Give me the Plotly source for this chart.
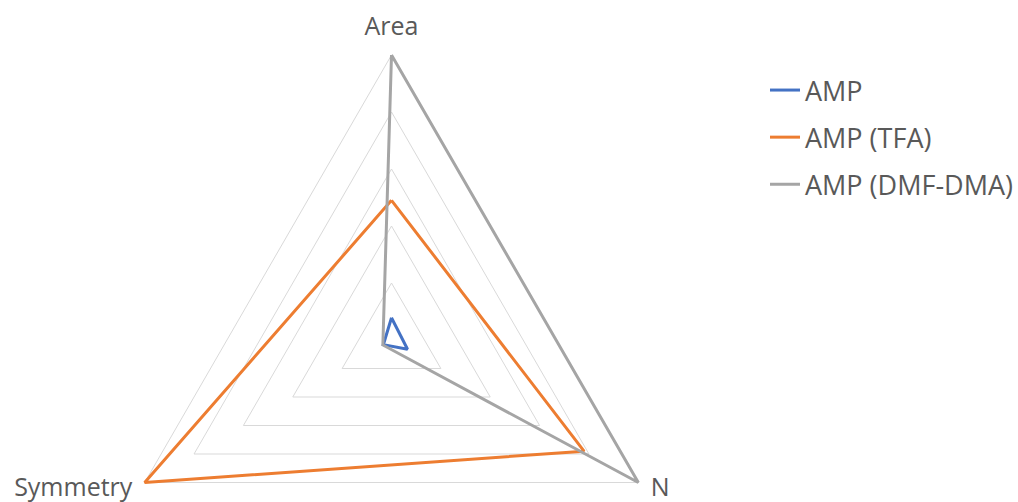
import plotly.graph_objects as go

# Radar axes (clockwise from the top) and normalised scores per method
categories = ["Area", "N", "Symmetry"]
series_names = ["AMP", "AMP (TFA)", "AMP (DMF-DMA)"]
amp = [0.078, 0.065, 0.033]
amp_tfa = [0.49, 0.78, 1.0]
amp_dmf_dma = [1.0, 1.0, 0.035]
series_values = [amp, amp_tfa, amp_dmf_dma]
grid_levels = [0.2, 0.4, 0.6, 0.8, 1.0]
colors = ["#4472C4", "#ED7D31", "#A5A5A5"]

W, H = 1018, 650
FONT = "Open Sans"
TEXT = "#595959"
R_MAX = 1.0
LABEL_R = 1.05 * R_MAX   # axis captions sit just outside the outer ring

fig = go.Figure()
for name, vals, col in zip(series_names, series_values, colors):
    fig.add_trace(go.Scatterpolar(
        r=vals + vals[:1],
        theta=categories + categories[:1],
        mode="lines",
        name=name,
        legendgroup=name,
        line=dict(color=col, width=3),
        hoverinfo="name+r+theta",
    ))

# category captions at the tips of the axes
fig.add_trace(go.Scatterpolar(
    r=[LABEL_R] * len(categories),
    theta=categories,
    mode="text",
    text=categories,
    textposition=["top center", "middle right", "middle left"],
    textfont=dict(family=FONT, size=25, color=TEXT),
    cliponaxis=False,
    showlegend=False,
    hoverinfo="skip",
))

# polar area centred at (391.5, 340); the r = 1 ring has a 285 px radius
cx, cy = 391.5, 340
R = 285 * LABEL_R / R_MAX
fig.update_layout(
    width=W, height=H,
    margin=dict(l=0, r=0, t=0, b=0),
    paper_bgcolor="white",
    plot_bgcolor="white",
    font=dict(family=FONT, size=25, color=TEXT),
    polar=dict(
        domain=dict(x=[(cx - R) / W, (cx + R) / W],
                    y=[1 - (cy + R) / H, 1 - (cy - R) / H]),
        bgcolor="white",
        gridshape="linear",
        angularaxis=dict(
            type="category",
            categoryarray=categories,
            rotation=90,
            direction="clockwise",
            showgrid=False,
            showline=False,
            ticks="",
            showticklabels=False,
        ),
        radialaxis=dict(
            range=[0, LABEL_R],
            tickvals=grid_levels,
            showgrid=True,
            gridcolor="#D9D9D9",
            gridwidth=1,
            showline=False,
            showticklabels=False,
            ticks="",
        ),
    ),
    showlegend=True,
    legend=dict(
        x=765 / W, xanchor="left",
        y=1 - 66 / H, yanchor="top",
        bgcolor="rgba(0,0,0,0)",
        font=dict(family=FONT, size=27, color=TEXT),
        tracegroupgap=9,
        itemwidth=30,
    ),
)

fig.write_html(
    "out.html",
    post_script="document.documentElement.style.overflow='hidden';document.body.style.overflow='hidden';",
)
